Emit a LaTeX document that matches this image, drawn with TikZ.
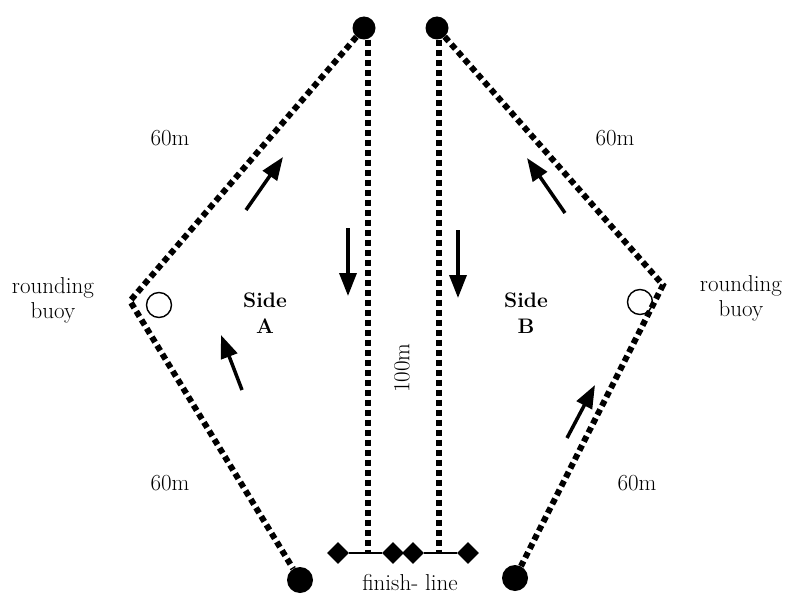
\documentclass[tikz,border=0pt]{standalone}
\usepackage{fontspec}
\usetikzlibrary{arrows.meta}
\usetikzlibrary{shapes,calc}

\begin{document}
\begin{tikzpicture}[x=1pt, y=-1pt]
\tikzset{
buoy/.style = {draw=none, fill=black, circle, minimum size=23pt, inner sep=0pt},
bigbuoy/.style = {buoy, minimum size=26pt},
turn/.style = {draw, circle, line width=1.4pt, minimum size=25pt, inner sep=0pt},
flag/.style = {fill=black, diamond, minimum size=22pt, inner sep=0pt},
label/.style = {font=\fontsize{23}{25}\selectfont, align=center},
side/.style = {font=\fontsize{21}{26}\selectfont\bfseries, align=center},
course/.style = {draw, line width=6pt, dash pattern=on 6pt off 4pt},
line/.style = {draw, line width=3.5pt, -{Triangle[length=23pt, width=17pt]}}
}
\useasboundingbox (0,0) rectangle (785,594);

     \node [buoy] (topa) at (364,28) {};
     \node [buoy] (topb) at (437,28) {};
     \node [bigbuoy] (bota) at (300,580) {};
     \node [bigbuoy] (botb) at (515,578) {};
     \coordinate (cornera) at (130,301);
     \coordinate (cornerb) at (663,285);
     \node [turn] (rounda) at (159,305) {};
     \node [turn] (roundb) at (640,302) {};

     \node [flag] (fa) at (338,553) {};
     \node [flag] (fb) at (393,553) {};
     \node [flag] (fc) at (413,553) {};
     \node [flag] (fd) at (468,553) {};
     \coordinate (enda) at (368,553);
     \coordinate (endb) at (439,553);

     \path [draw, line width=1.5pt] (fa) -- (fb);
     \path [draw, line width=1.5pt] (fc) -- (fd);
     \path [course] (topa) -- (cornera) -- (bota);
     \path [course] (topb) -- (cornerb) -- (botb);
     \path [course] (topa.south -| enda) -- (enda);
     \path [course] (topb.south -| endb) -- (endb);

     \path [line] (246,210) -- (283,157);
     \path [line] (242,390) -- (221,335);
     \path [line] (348,228) -- (348,296);
     \path [line] (458,230) -- (458,298);
     \path [line] (565,213) -- (527,158);
     \path [line] (567,438) -- (595,385);

     \node [label] (lena) at (170,138) {60m};
     \node [label] (lenb) at (615,138) {60m};
     \node [label] (lenc) at (170,483) {60m};
     \node [label] (lend) at (637,483) {60m};
     \node [label] (namea) at (53,300) {rounding\\buoy};
     \node [label] (nameb) at (741,298) {rounding\\buoy};
     \node [side] (sidea) at (265,313) {Side\\A};
     \node [side] (sideb) at (526,313) {Side\\B};
     \node [label, rotate=90] (mid) at (402,368) {100m};
     \node [label, inner sep=0pt] (finish) at (410,583) {finish- line};
\end{tikzpicture}
\end{document}
